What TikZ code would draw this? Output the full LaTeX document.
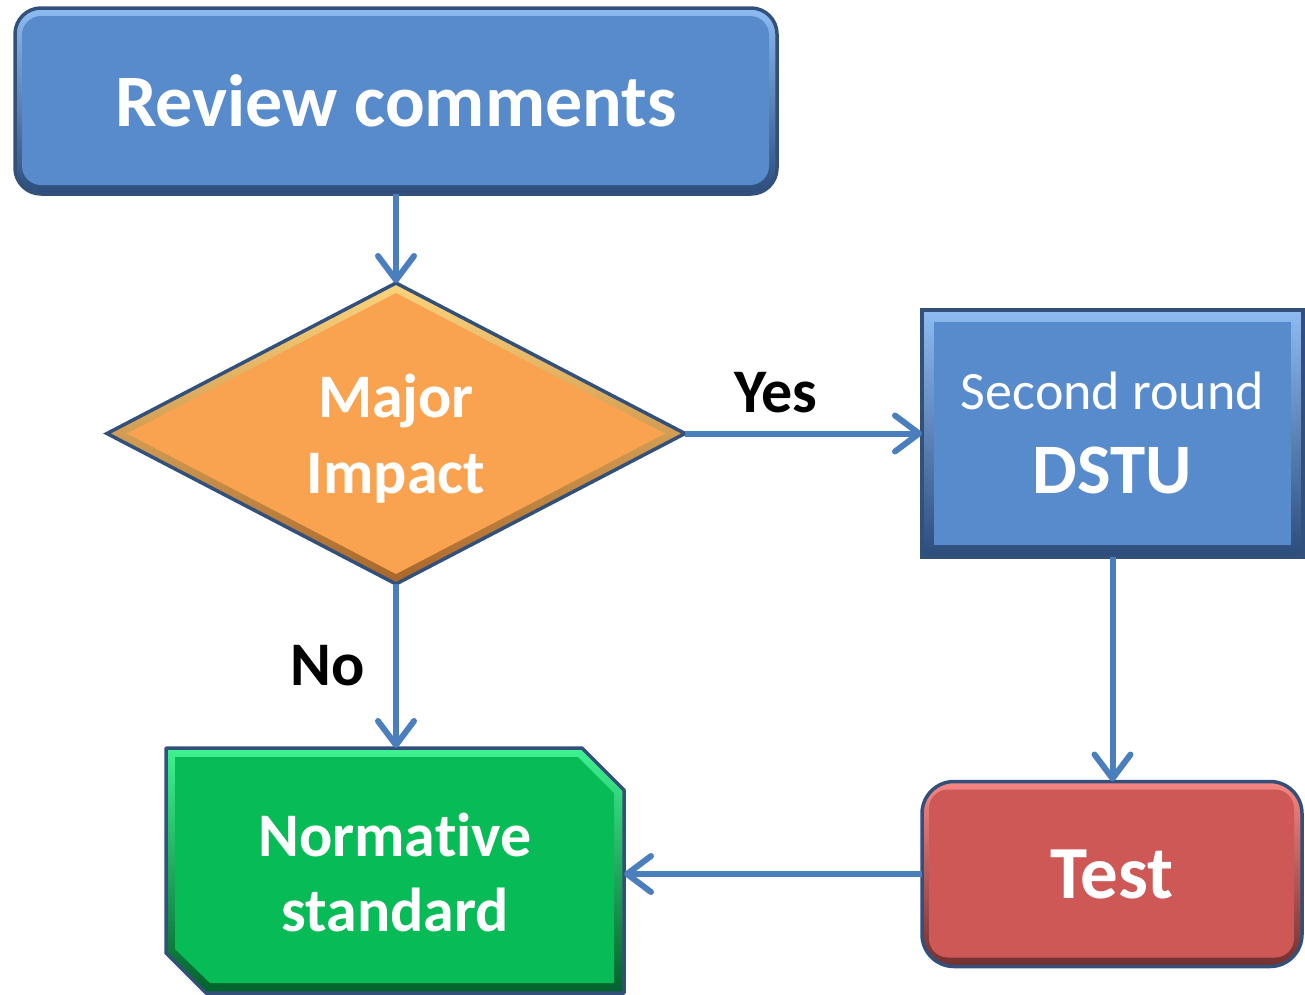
\documentclass[tikz,border=0pt]{standalone}
\usepackage{fontspec}
\setmainfont{Carlito}[Ligatures=NoCommon]
\usetikzlibrary{shapes.geometric,arrows.meta,backgrounds}
\definecolor{blueMain}{HTML}{588BCB}
\definecolor{blueLight}{HTML}{8DBBF2}
\definecolor{blueDark}{HTML}{2C4D7C}
\definecolor{edge}{HTML}{33507A}
\definecolor{orangeMain}{HTML}{F9A24F}
\definecolor{orangeLight}{HTML}{FCD47C}
\definecolor{orangeDark}{HTML}{A8662A}
\definecolor{greenMain}{HTML}{07BB56}
\definecolor{greenLight}{HTML}{3FF290}
\definecolor{greenDark}{HTML}{03602C}
\definecolor{redMain}{HTML}{CD5856}
\definecolor{redLight}{HTML}{F58684}
\definecolor{redDark}{HTML}{73302F}
\definecolor{connColor}{HTML}{4A7EBD}
\tikzset{
  box/.style={draw=edge, line width=3.5pt, inner sep=0pt, outer sep=0pt, text=white, align=center},
  rcbox/.style={box, rounded corners=26pt, top color=#1Light, bottom color=#1Dark,
    path picture={\fill[#1Main, rounded corners=19pt]
      ([shift={(7pt,-8pt)}]path picture bounding box.north west) rectangle
      ([shift={(-8pt,9pt)}]path picture bounding box.south east);}},
  sqbox/.style={box, top color=#1Light, bottom color=#1Dark,
    path picture={\fill[#1Main]
      ([shift={(12pt,-12pt)}]path picture bounding box.north west) rectangle
      ([shift={(-12pt,12pt)}]path picture bounding box.south east);}},
  dmbox/.style={box, diamond, top color=#1Light, bottom color=#1Dark,
    path picture={\fill[#1Main]
      ([yshift=-10pt]path picture bounding box.north) --
      ([xshift=-20pt]path picture bounding box.east) --
      ([yshift=10pt]path picture bounding box.south) --
      ([xshift=20pt]path picture bounding box.west) -- cycle;}},
  connector/.style={draw=connColor, line width=6pt, -{Straight Barb[length=24pt, width=36pt, round]}},
  lbl/.style={text=black, font=\fontsize{62}{68}\selectfont\bfseries, inner sep=0pt}
}
\begin{document}
\begin{tikzpicture}[x=1pt,y=-1pt]
\useasboundingbox (0,0) rectangle (1305,994);

\node[rcbox=blue, minimum width=762pt, minimum height=186pt,
  font=\fontsize{74}{88}\selectfont\bfseries] (rc) at (396,101) {Review comments};

\node[dmbox=orange, minimum width=578pt, minimum height=301pt, text depth=0pt,
  font=\fontsize{62}{76}\selectfont\bfseries] (mi) at (396,433.5) {Major\\Impact};

\node[sqbox=blue, minimum width=381pt, minimum height=247pt,
  font=\fontsize{54}{84}\selectfont] (dstu) at (1112.5,433.5)
  {Second round\\{\fontsize{71}{84}\selectfont\bfseries DSTU}};

\node[rcbox=red, minimum width=380pt, minimum height=185pt, rounded corners=32pt,
  font=\fontsize{75}{88}\selectfont\bfseries] (test) at (1112,874) {Test};

\node[inner sep=0pt, outer sep=0pt, minimum width=458pt, minimum height=245pt, text=white, align=center,
  font=\fontsize{62}{75}\selectfont\bfseries] (norm) at (395,870.5) {\rule{0pt}{48pt}Normative\\standard};

\begin{scope}[on background layer]
  \shade[top color=greenLight, bottom color=greenDark]
    (norm.north west) -- ([xshift=-42pt]norm.north east) -- ([yshift=-42pt]norm.north east)
    -- (norm.south east) -- ([xshift=40pt]norm.south west) -- ([yshift=40pt]norm.south west) -- cycle;
  \fill[greenMain]
    ([shift={(9pt,-9pt)}]norm.north west) -- ([shift={(-46pt,-9pt)}]norm.north east)
    -- ([shift={(-10pt,-45pt)}]norm.north east) -- ([shift={(-10pt,10pt)}]norm.south east)
    -- ([shift={(44pt,10pt)}]norm.south west) -- ([shift={(9pt,44pt)}]norm.south west) -- cycle;
  \draw[edge, line width=3.5pt, line join=round]
    (norm.north west) -- ([xshift=-42pt]norm.north east) -- ([yshift=-42pt]norm.north east)
    -- (norm.south east) -- ([xshift=40pt]norm.south west) -- ([yshift=40pt]norm.south west) -- cycle;
\end{scope}

\draw[connector] (rc.south) -- (mi.north);
\draw[connector] (mi.east) -- (dstu.west);
\draw[connector] (dstu.south) -- (dstu.south |- test.north);
\draw[connector] (test.west) -- (norm.east |- test.west);
\draw[connector] (mi.south) -- (mi.south |- norm.north);

\node[lbl] (yes) at (776,393) {Yes};
\node[lbl] (no) at (328,666) {No};
\end{tikzpicture}
\end{document}
